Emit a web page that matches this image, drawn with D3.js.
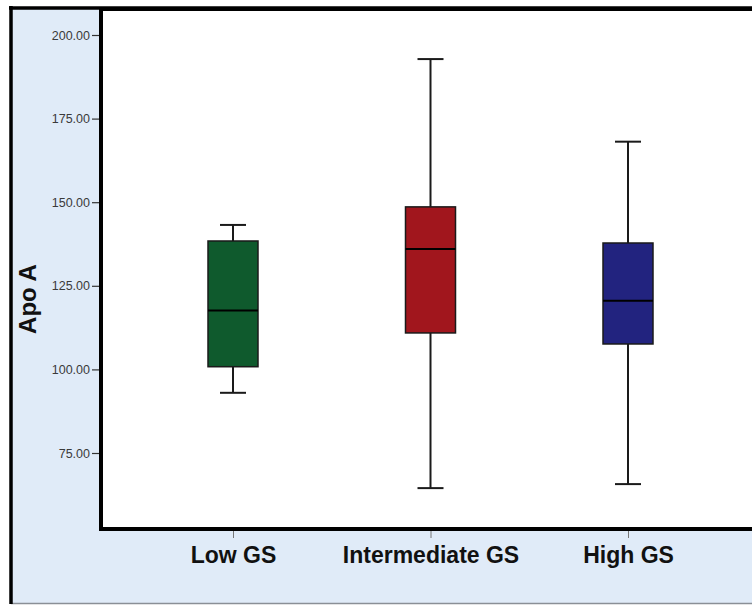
<!DOCTYPE html>
<html><head><meta charset="utf-8">
<script src="https://cdn.jsdelivr.net/npm/d3@7"></script>
<style>body{margin:0;background:#fff}svg{display:block}</style>
</head><body>
<script>
const categories = ["Low GS", "Intermediate GS", "High GS"];
const whiskerLow = [93.0, 64.5, 65.7];
const q1 = [100.8, 110.9, 107.6];
const median = [117.6, 136.0, 120.5];
const q3 = [138.4, 148.6, 137.8];
const whiskerHigh = [143.2, 192.8, 168.1];
const colors = ["#0f5a2d", "#a1161d", "#22237f"];
const yTicks = [75, 100, 125, 150, 175, 200];

const W = 752, H = 606;
const svg = d3.select("body").append("svg").attr("width", W).attr("height", H);

// outer panel
svg.append("rect").attr("x", 11).attr("y", 8).attr("width", W).attr("height", 595)
  .attr("fill", "#e0ebf8").attr("stroke", "none");
svg.append("line").attr("x1", 11).attr("x2", W).attr("y1", 603.5).attr("y2", 603.5)
  .attr("stroke", "#8a8f96").attr("stroke-width", 1.5);
svg.append("line").attr("x1", 11).attr("x2", 11).attr("y1", 6).attr("y2", 604)
  .attr("stroke", "#000").attr("stroke-width", 3.5);
svg.append("line").attr("x1", 9).attr("x2", W).attr("y1", 8).attr("y2", 8)
  .attr("stroke", "#000").attr("stroke-width", 3.5);

const plotL = 101, plotT = 9, plotB = 529;
const y = d3.scaleLinear().domain([75, 200]).range([453, 35]);
const x = d3.scalePoint().domain(categories).range([233, 628]);

svg.append("rect").attr("x", plotL).attr("y", plotT).attr("width", W - plotL + 10).attr("height", plotB - plotT)
  .attr("fill", "#fff").attr("stroke", "#000").attr("stroke-width", 4);

// y axis
const yAxis = d3.axisLeft(y).tickValues(yTicks).tickFormat(d3.format(".2f")).tickSize(7).tickPadding(2);
const gy = svg.append("g").attr("transform", `translate(${plotL - 2},0)`).call(yAxis);
gy.select(".domain").remove();
gy.selectAll(".tick line").attr("stroke", "#333").attr("stroke-width", 1.2);
gy.selectAll(".tick text").attr("fill", "#3a3a3a").attr("font-family", "Liberation Sans, Arial, sans-serif")
  .attr("font-size", 12.5);

// x axis
const xAxis = d3.axisBottom(x).tickSize(7).tickPadding(9);
const gx = svg.append("g").attr("transform", `translate(0,${plotB + 2})`).call(xAxis);
gx.select(".domain").remove();
gx.selectAll(".tick line").attr("stroke", "#777").attr("stroke-width", 1);
gx.selectAll(".tick text").attr("fill", "#111").attr("font-family", "Liberation Sans, Arial, sans-serif")
  .attr("font-size", 23).attr("font-weight", "bold");

// y title
svg.append("text").attr("transform", "translate(36,299) rotate(-90)").attr("text-anchor", "middle")
  .attr("font-family", "Liberation Sans, Arial, sans-serif").attr("font-weight", "bold").attr("font-size", 24)
  .attr("fill", "#111").text("Apo A");

// boxes
const boxW = 50, capW = 26;
const data = categories.map((c, i) => ({c, lo: whiskerLow[i], q1: q1[i], med: median[i], q3: q3[i], hi: whiskerHigh[i], col: colors[i]}));
const g = svg.append("g").selectAll("g").data(data).join("g");
g.append("line").attr("x1", d => x(d.c)).attr("x2", d => x(d.c)).attr("y1", d => y(d.hi)).attr("y2", d => y(d.q3))
  .attr("stroke", "#1a1a1a").attr("stroke-width", 2);
g.append("line").attr("x1", d => x(d.c)).attr("x2", d => x(d.c)).attr("y1", d => y(d.q1)).attr("y2", d => y(d.lo))
  .attr("stroke", "#1a1a1a").attr("stroke-width", 2);
g.append("line").attr("x1", d => x(d.c) - capW / 2).attr("x2", d => x(d.c) + capW / 2).attr("y1", d => y(d.hi)).attr("y2", d => y(d.hi))
  .attr("stroke", "#1a1a1a").attr("stroke-width", 2);
g.append("line").attr("x1", d => x(d.c) - capW / 2).attr("x2", d => x(d.c) + capW / 2).attr("y1", d => y(d.lo)).attr("y2", d => y(d.lo))
  .attr("stroke", "#1a1a1a").attr("stroke-width", 2);
g.append("rect").attr("x", d => x(d.c) - boxW / 2).attr("width", boxW)
  .attr("y", d => y(d.q3)).attr("height", d => y(d.q1) - y(d.q3))
  .attr("fill", d => d.col).attr("stroke", "#1a1a1a").attr("stroke-width", 1.5);
g.append("line").attr("x1", d => x(d.c) - boxW / 2).attr("x2", d => x(d.c) + boxW / 2).attr("y1", d => y(d.med)).attr("y2", d => y(d.med))
  .attr("stroke", "#000").attr("stroke-width", 2);
</script>
</body></html>
